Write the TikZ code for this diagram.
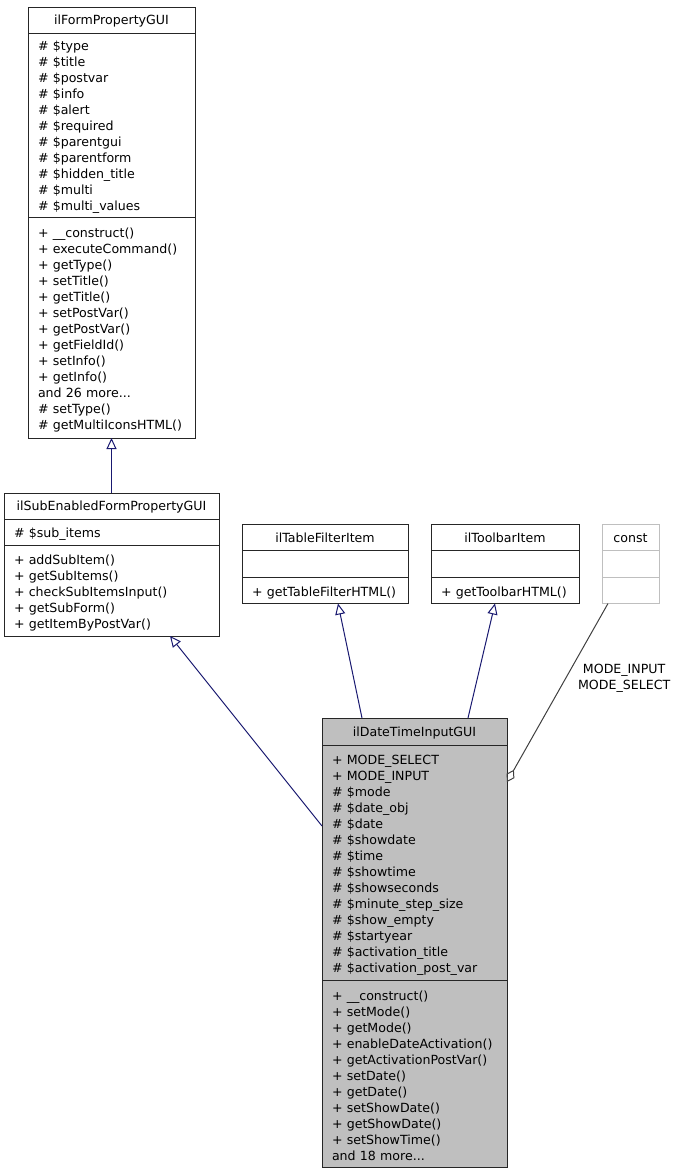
\documentclass[tikz,border=0pt]{standalone}
\usepackage{fontspec}
\setmainfont{DejaVu Sans}
\usetikzlibrary{positioning,arrows.meta}

\definecolor{edgeblue}{HTML}{191970}
\definecolor{edgegray}{HTML}{404040}
\definecolor{nodegray}{HTML}{BFBFBF}

\begin{document}
\begin{tikzpicture}[x=1pt, y=-1pt,
  cls/.style={rectangle, draw=black!85, line width=1pt, outer sep=0pt, inner sep=0pt,
    minimum height=26pt, align=center, font=\fontsize{12.6}{16}\selectfont},
  title/.style={cls, text height=11pt, text depth=2pt},
  sec/.style={cls, inner xsep=10pt, align=left, below=0pt of #1,
    execute at begin node={\rule{0pt}{14pt}}},
  dtfill/.style={fill=nodegray},
  undoc/.style={draw=nodegray},
  inh/.style={draw=edgeblue, line width=1pt, -{Triangle[open, length=11pt, width=10pt]}},
  agg/.style={draw=edgegray, line width=1pt, {Diamond[open, length=14pt, width=9pt]}-}
]
  \useasboundingbox (0,0) rectangle (676,1173);

  % base classes
  \node[title, minimum width=167pt] (formtitle) at (111.5,20) {ilFormPropertyGUI};
  \node[sec=formtitle, text width=147pt, minimum height=184pt] (formattr)
    {\# \$type\\\# \$title\\\# \$postvar\\\# \$info\\\# \$alert\\\# \$required\\\# \$parentgui\\
     \# \$parentform\\\# \$hidden\_title\\\# \$multi\\\# \$multi\_values};
  \node[sec=formattr, text width=147pt, minimum height=221pt] (formmeth)
    {+ \_\_construct()\\+ executeCommand()\\+ getType()\\+ setTitle()\\+ getTitle()\\
     + setPostVar()\\+ getPostVar()\\+ getFieldId()\\+ setInfo()\\+ getInfo()\\
     and 26 more...\\\# setType()\\\# getMultiIconsHTML()};

  \node[title, minimum width=215pt] (subtitle) at (111.5,506) {ilSubEnabledFormPropertyGUI};
  \node[sec=subtitle, text width=195pt, minimum height=26pt] (subattr) {\# \$sub\_items};
  \node[sec=subattr, text width=195pt, minimum height=91pt] (submeth)
    {+ addSubItem()\\+ getSubItems()\\+ checkSubItemsInput()\\+ getSubForm()\\+ getItemByPostVar()};

  \node[title, minimum width=166pt] (tabtitle) at (325,537.5) {ilTableFilterItem};
  \node[sec=tabtitle, text width=146pt, minimum height=27pt] (tabattr) {};
  \node[sec=tabattr, text width=146pt, minimum height=26pt] (tabmeth) {+ getTableFilterHTML()};

  \node[title, minimum width=148pt] (tooltitle) at (505,537.5) {ilToolbarItem};
  \node[sec=tooltitle, text width=128pt, minimum height=27pt] (toolattr) {};
  \node[sec=toolattr, text width=128pt, minimum height=26pt] (toolmeth) {+ getToolbarHTML()};

  \node[title, undoc, minimum width=57pt] (consttitle) at (630.5,537.5) {const};
  \node[sec=consttitle, undoc, text width=37pt, minimum height=27pt] (constattr) {};
  \node[sec=constattr, undoc, text width=37pt, minimum height=26pt] (constmeth) {};

  % the class itself
  \node[title, dtfill, minimum width=185pt, minimum height=27pt] (dttitle) at (414.5,731.5) {ilDateTimeInputGUI};
  \node[sec=dttitle, dtfill, text width=165pt, minimum height=235pt] (dtattr)
    {+ MODE\_SELECT\\+ MODE\_INPUT\\\# \$mode\\\# \$date\_obj\\\# \$date\\\# \$showdate\\
     \# \$time\\\# \$showtime\\\# \$showseconds\\\# \$minute\_step\_size\\\# \$show\_empty\\
     \# \$startyear\\\# \$activation\_title\\\# \$activation\_post\_var};
  \node[sec=dtattr, dtfill, text width=165pt, minimum height=187pt] (dtmeth)
    {+ \_\_construct()\\+ setMode()\\+ getMode()\\+ enableDateActivation()\\
     + getActivationPostVar()\\+ setDate()\\+ getDate()\\+ setShowDate()\\
     + getShowDate()\\+ setShowTime()\\and 18 more...};

  % edges
  \draw[inh] (subtitle.north) -- (formmeth.south);
  \draw[inh] ([yshift=36.5pt]dtattr.west) -- ([xshift=58.5pt]submeth.south);
  \draw[inh] ([xshift=-52.5pt]dttitle.north) -- ([xshift=13pt]tabmeth.south);
  \draw[inh] ([xshift=53.5pt]dttitle.north) -- ([xshift=-10pt]toolmeth.south);
  \draw[agg] ([yshift=80.5pt]dtattr.east) -- node[pos=0.6, anchor=west, xshift=10pt, yshift=-3pt, inner sep=0pt,
    align=center, font=\fontsize{12.6}{16}\selectfont] {MODE\_INPUT\\MODE\_SELECT} ([xshift=-22.5pt]constmeth.south);
\end{tikzpicture}
\end{document}
